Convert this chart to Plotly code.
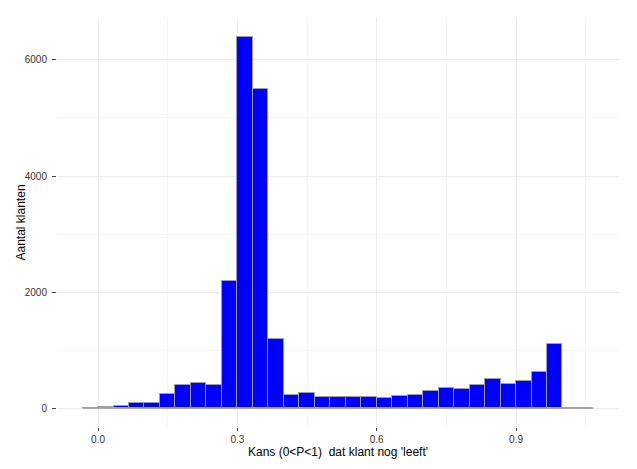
import plotly.graph_objects as go

# Histogram data (bin width 1/30, first bin edge at -1/30)
bin_width = 1 / 30
first_edge = -1 / 30
counts = [0, 25, 50, 90, 100, 250, 395, 430, 400, 2200, 6400, 5500, 1190,
          230, 260, 200, 205, 190, 200, 183, 218, 230, 293, 356, 328, 407,
          500, 420, 476, 620, 1110, 0, 0]

x_tickvals = [0.0, 0.3, 0.6, 0.9]
x_ticktext = ["0.0", "0.3", "0.6", "0.9"]
y_tickvals = [0, 2000, 4000, 6000]
y_ticktext = ["0", "2000", "4000", "6000"]

centers = [first_edge + (i + 0.5) * bin_width for i in range(len(counts))]
x_lo = first_edge
x_hi = first_edge + len(counts) * bin_width
span = x_hi - x_lo
ymax = max(counts)

fig = go.Figure()
# baseline (shows zero-count bins as a grey line)
fig.add_trace(go.Scatter(x=[x_lo, x_hi], y=[0, 0], mode="lines",
                         line=dict(color="#a0a0a0", width=1),
                         hoverinfo="skip", showlegend=False))
fig.add_trace(go.Bar(x=centers, y=counts, width=bin_width,
                     marker=dict(color="#0000FF",
                                 line=dict(color="#a0a0a0", width=1)),
                     showlegend=False))

font = "Liberation Sans, Arial, sans-serif"
fig.update_layout(
    width=621, height=453,
    margin=dict(l=49, r=10, t=10, b=34),
    paper_bgcolor="white", plot_bgcolor="white",
    bargap=0,
    font=dict(family=font, color="#222222"),
    xaxis=dict(
        automargin=False,
        range=[x_lo - 0.05 * span, x_hi + 0.05 * span],
        tickvals=x_tickvals, ticktext=x_ticktext,
        tickfont=dict(size=10, color="#333333"),
        ticks="outside", ticklen=3, tickcolor="#444444", tickwidth=1,
        showgrid=True, gridcolor="#ebebeb", gridwidth=1,
        minor=dict(tickvals=[0.15, 0.45, 0.75, 1.05], showgrid=True,
                   gridcolor="#f4f4f4", gridwidth=1, ticks=""),
        zeroline=False, showline=False,
        title=dict(text="Kans (0&lt;P&lt;1)&nbsp; dat klant nog 'leeft'",
                   font=dict(size=12, color="#000000"), standoff=0),
    ),
    yaxis=dict(
        automargin=False,
        range=[-0.05 * ymax, 1.05 * ymax],
        tickvals=y_tickvals, ticktext=y_ticktext,
        tickfont=dict(size=10, color="#333333"),
        ticks="outside", ticklen=4, tickcolor="#444444", tickwidth=1,
        ticklabelstandoff=3,
        showgrid=True, gridcolor="#ebebeb", gridwidth=1,
        minor=dict(tickvals=[1000, 3000, 5000], showgrid=True,
                   gridcolor="#f4f4f4", gridwidth=1, ticks=""),
        zeroline=False, showline=False,
    ),
    annotations=[dict(
        text="Aantal klanten", textangle=-90,
        xref="paper", yref="paper", x=0, y=0.5,
        xanchor="center", yanchor="middle", xshift=-37,
        showarrow=False, font=dict(size=12, color="#000000"),
    )],
)

fig.write_html("out.html")
